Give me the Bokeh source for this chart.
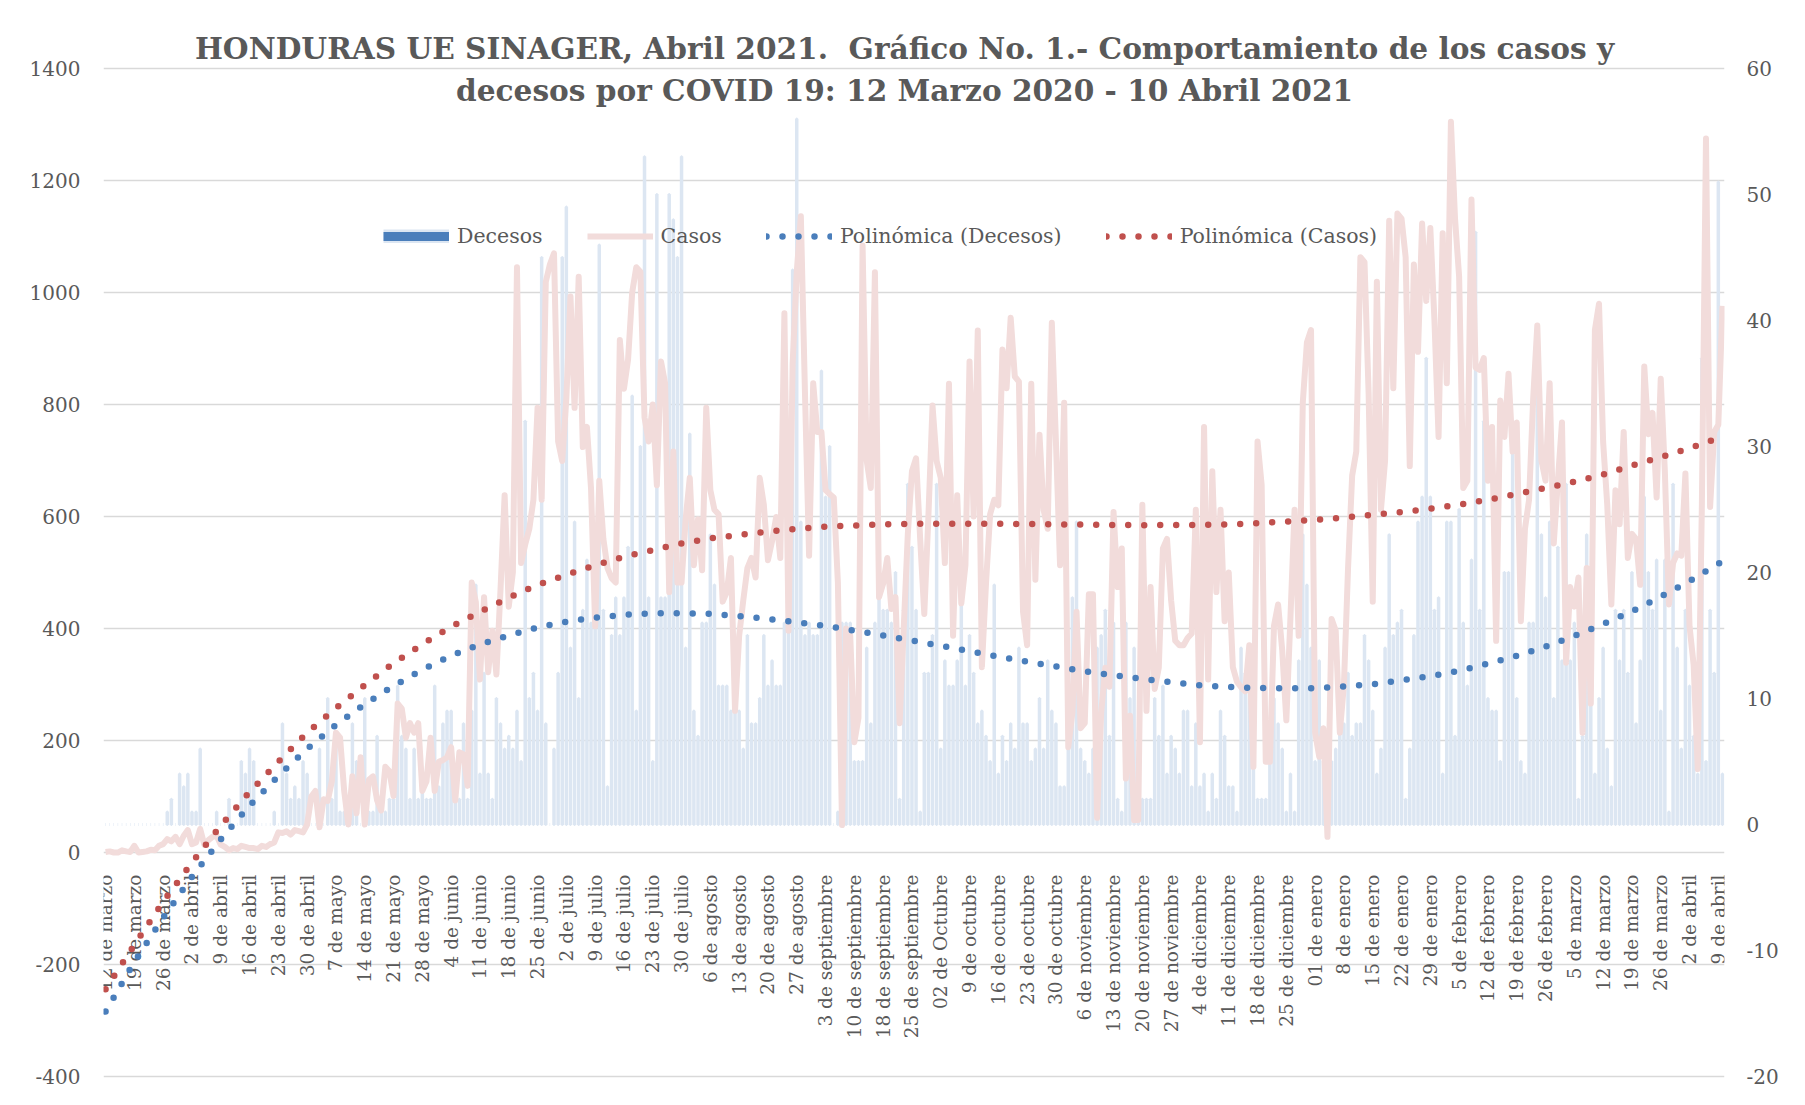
import numpy as np
from bokeh.plotting import figure
from bokeh.models import (Range1d, LinearAxis, FixedTicker, Legend, LegendItem,
                          Label, ColumnDataSource)
from bokeh.core.properties import value
from bokeh.embed import file_html
from bokeh.resources import INLINE

# ---------------- data ----------------
title_lines = [
    "HONDURAS UE SINAGER, Abril 2021.\u00a0 Gráfico No. 1.- Comportamiento de los casos y",
    "decesos por COVID 19: 12 Marzo 2020 - 10 Abril 2021",
]

tick_labels = [
    "12 de marzo", "19 de marzo", "26 de marzo", "2 de abril", "9 de abril", "16 de abril",
    "23 de abril", "30 de abril", "7 de mayo", "14 de mayo", "21 de mayo", "28 de mayo",
    "4 de junio", "11 de junio", "18 de junio", "25 de junio", "2 de julio", "9 de julio",
    "16 de julio", "23 de julio", "30 de julio", "6 de agosto", "13 de agosto", "20 de agosto",
    "27 de agosto", "3 de septiembre", "10 de septiembre", "18 de septiembre",
    "25 de septiembre", "02 de Octubre", "9 de octubre", "16 de octubre", "23 de octubre",
    "30 de octubre", "6 de noviembre", "13 de noviembre", "20 de noviembre",
    "27 de noviembre", "4 de diciembre", "11 de diciembre", "18 de diciembre",
    "25 de diciembre", "01 de enero", "8 de enero", "15 de enero", "22 de enero",
    "29 de enero", "5 de febrero", "12 de febrero", "19 de febrero", "26 de febrero",
    "5 de marzo", "12 de marzo", "19 de marzo", "26 de marzo", "2 de abril", "9 de abril",
]

casos = [
    1,
    2, 0, 0, 4, 2, 1, 12,
    0, 1, 2, 5, 4, 12, 15,
    24, 20, 28, 15, 30, 40, 15,
    18, 42, 14, 22, 28, 30, 14,
    10, 4, 8, 6, 12, 10, 8,
    8, 6, 12, 10, 15, 18, 36,
    35, 38, 32, 40, 38, 36, 50,
    100, 110, 45, 95, 92, 127, 214,
    205, 110, 50, 136, 70, 170, 50,
    130, 136, 93, 75, 153, 145, 101,
    266, 257, 205, 231, 214, 231, 110,
    127, 205, 110, 162, 165, 170, 188,
    93, 179, 175, 119, 482, 447, 309,
    456, 322, 396, 318, 470, 638, 439,
    500, 1045, 517, 550, 578, 630, 794,
    630, 1019, 1050, 1070, 734, 699, 811,
    993, 794, 1028, 724, 760, 650, 404,
    664, 560, 508, 490, 482, 915, 828,
    880, 1000, 1045, 1037, 777, 734, 800,
    656, 877, 838, 465, 716, 482, 482,
    595, 669, 513, 595, 504, 794, 647,
    612, 604, 448, 465, 526, 253, 387,
    450, 508, 526, 491, 669, 621, 522,
    556, 599, 526, 963, 396, 872, 1036,
    1136, 820, 530, 838, 751, 751, 647,
    640, 634, 482, 49, 400, 387, 197,
    240, 1084, 700, 651, 1036, 456, 480,
    526, 435, 456, 231, 400, 569, 681,
    704, 560, 426, 600, 798, 699, 669,
    517, 837, 387, 638, 445, 513, 877,
    600, 932, 331, 480, 604, 630, 620,
    898, 829, 955, 850, 841, 430, 370,
    837, 487, 746, 612, 578, 946, 733,
    513, 803, 188, 250, 430, 222, 231,
    461, 461, 62, 250, 330, 296, 608,
    474, 543, 132, 244, 58, 58, 621,
    253, 474, 292, 330, 543, 560, 450,
    378, 370, 370, 383, 391, 612, 197,
    760, 309, 681, 465, 612, 413, 500,
    331, 305, 295, 288, 370, 153, 734,
    656, 162, 162, 405, 443, 361, 236,
    420, 612, 387, 803, 911, 933, 214,
    171, 222, 28, 417, 396, 214, 300,
    508, 673, 716, 1063, 1054, 820, 448,
    1019, 612, 700, 1128, 829, 1141, 1132,
    1063, 690, 1050, 894, 1123, 985, 1115,
    950, 742, 1106, 838,
    1305, 1132, 1028, 651, 664, 1166, 866, 862, 883, 664, 760, 378, 807, 742,
    855, 716, 768, 413, 578, 630, 811, 941, 700, 664, 838, 552, 664, 768,
    339, 474, 439, 491, 214, 508, 266, 933, 980, 733, 621, 443, 647, 586,
    751, 526, 569, 560, 478, 868, 747, 785, 634, 846, 681, 443, 517, 534,
    530, 677, 404, 335, 149, 621, 1275, 617, 751, 764, 976,
]

decesos = [
    0, 0, 0, 0, 0, 0, 0,
    0, 0, 0, 0, 0, 0, 0,
    0, 1, 2, 0, 4, 3, 4,
    1, 1, 6, 0, 0, 0, 1,
    0, 0, 2, 0, 0, 5, 4,
    6, 5, 0, 0, 0, 0, 1,
    0, 8, 4, 2, 3, 2, 5,
    4, 0, 0, 6, 0, 10, 2,
    7, 1, 1, 0, 8, 5, 0,
    10, 1, 1, 7, 1, 1, 2,
    2, 11, 7, 6, 2, 6, 2,
    3, 2, 2, 11, 3, 8, 9,
    9, 2, 2, 8, 2, 9, 19,
    4, 12, 4, 2, 10, 8, 6,
    7, 6, 9, 5, 32, 10, 12,
    9, 45, 8, 0, 6, 12, 45,
    49, 14, 24, 10, 17, 21, 16,
    17, 46, 17, 3, 15, 18, 15,
    18, 22, 34, 9, 30, 53, 18,
    5, 50, 18, 18, 50, 48, 45,
    53, 14, 31, 9, 7, 16, 16,
    23, 19, 11, 11, 11, 9, 9,
    9, 6, 15, 8, 8, 10, 15,
    11, 13, 11, 11, 16, 16, 44,
    56, 24, 15, 16, 15, 15, 36,
    26, 30, 0, 1, 16, 16, 16,
    5, 5, 5, 14, 8, 16, 24,
    17, 17, 16, 20, 2, 17, 27,
    22, 17, 1, 12, 12, 15, 27,
    6, 13, 11, 11, 13, 19, 11,
    15, 12, 8, 9, 7, 5, 19,
    4, 7, 5, 8, 6, 14, 8,
    8, 5, 6, 10, 6, 13, 9,
    8, 3, 3, 7, 18, 24, 6,
    5, 4, 6, 14, 15, 17, 7,
    16, 2, 1, 16, 10, 14, 2,
    2, 2, 2, 10, 7, 11, 4,
    7, 6, 4, 9, 9, 3, 8,
    3, 4, 1, 4, 2, 9, 7,
    3, 3, 1, 14, 12, 14, 12,
    2, 2, 2, 6, 10, 8, 6,
    1, 4, 1, 13, 23, 19, 14,
    5, 13, 5, 7, 5, 6, 9,
    8, 12, 7, 8, 8, 15, 13,
    9, 4, 6, 14, 23, 15, 16,
    17, 2, 6, 15, 24, 26, 37,
    26, 17, 18, 4, 24, 24, 7,
    25, 16, 11, 21, 47, 17, 32,
    10, 9, 9, 5, 20, 20, 31,
    10, 5, 4, 16, 16, 34, 23,
    18, 24, 10, 22, 13, 27, 13,
    16, 2, 7, 23, 17, 4, 10,
    14, 6, 3, 17, 13, 17, 12,
    20, 8, 13, 26, 20, 17, 21,
    9, 21, 1, 27, 14, 6, 17,
    11, 7, 4, 37, 5, 17, 12,
    51, 4,
]

# polynomial trend lines (weekly positions + last day)
trend_x = list(range(0, 393, 7)) + [393]
trend_decesos = [
    -14.85, -10.9, -7.4, -4.15, -1.18, 1.5, 3.85, 6.0, 7.9, 9.55, 11.0, 12.28, 13.4,
    14.3, 15.0, 15.63, 16.1, 16.42, 16.64, 16.77, 16.77, 16.73, 16.54, 16.32, 16.06,
    15.76, 15.39, 15.0, 14.6, 14.18, 13.75, 13.33, 12.92, 12.54, 12.16, 11.84, 11.56,
    11.3, 11.04, 10.92, 10.83, 10.81, 10.82, 10.95, 11.13, 11.44, 11.78, 12.19, 12.77,
    13.38, 14.12, 14.97, 15.91, 16.92, 18.08, 19.32, 20.7, 20.9,
]
trend_casos = [
    -244, -165, -88, -18, 48, 108, 162, 214, 258, 299, 338, 372, 403, 430, 455, 478,
    496, 513, 528, 540, 552, 561, 567, 573, 578, 582, 584, 586, 587, 587, 587, 587,
    586.5, 586, 585.5, 585, 584.5, 585, 585, 586, 588, 591, 594, 598, 603, 608, 614,
    621, 630, 640, 651, 662, 675, 691, 706, 722, 740, 742,
]

left_ticks = [-400, -200, 0, 200, 400, 600, 800, 1000, 1200, 1400]
right_ticks = [-20, -10, 0, 10, 20, 30, 40, 50, 60]

# ---------------- derived ----------------
n = min(len(casos), len(decesos))
casos = casos[:n]
decesos = decesos[:n]
idx = np.arange(n)

GRAY = "#595959"
GRID = "#D9D9D9"
FONT = "DejaVu Serif"
BAR_FILL = "#4A7EBB"
BAR_EDGE = "#DCE6F2"

L0, L1 = left_ticks[0], left_ticks[-1]
R0, R1 = right_ticks[0], right_ticks[-1]
ylo, yhi = -421.4, 1485.7


def to_right(v):
    return R0 + (v - L0) * (R1 - R0) / (L1 - L0)


p = figure(width=1789, height=1089, output_backend="svg", toolbar_location=None,
           x_range=Range1d(-0.5, n - 0.5), y_range=Range1d(ylo, yhi),
           x_axis_location=None, min_border_left=103, min_border_right=65,
           min_border_top=20, min_border_bottom=1)
p.extra_y_ranges = {"right": Range1d(to_right(ylo), to_right(yhi))}
p.outline_line_color = None
p.background_fill_color = "white"
p.border_fill_color = "white"

lt = FixedTicker(ticks=left_ticks)
p.yaxis.ticker = lt
p.ygrid.ticker = lt
p.ygrid.grid_line_color = GRID
p.ygrid.grid_line_width = 1.5
p.xgrid.visible = False

lax = p.yaxis[0]
lax.axis_line_color = None
lax.major_tick_line_color = None
lax.minor_tick_line_color = None
lax.major_tick_out = 0
lax.major_label_standoff = 23
lax.major_label_text_font = FONT
lax.major_label_text_font_size = "20px"
lax.major_label_text_color = GRAY
lax.major_label_overrides = {t: str(t) for t in left_ticks}

rax = LinearAxis(y_range_name="right", ticker=FixedTicker(ticks=right_ticks),
                 axis_line_color=None, major_tick_line_color=None,
                 minor_tick_line_color=None, major_tick_out=0,
                 major_label_standoff=22, major_label_text_font=FONT,
                 major_label_text_font_size="20px", major_label_text_color=GRAY,
                 major_label_overrides={t: str(t) for t in right_ticks})
p.add_layout(rax, "right")

src = ColumnDataSource(dict(x=idx, casos=casos, decesos=decesos))
tsrc = ColumnDataSource(dict(x=trend_x, tc=trend_casos, td=trend_decesos))

# x category labels hanging from the zero line
lab_src = ColumnDataSource(dict(x=idx[::7][:len(tick_labels)], y=np.zeros(len(tick_labels)),
                                text=tick_labels))
p.text(x="x", y="y", text="text", source=lab_src, angle=np.pi / 2, text_align="right",
       text_baseline="middle", text_font=value(FONT), text_font_size="18.5px",
       text_color=GRAY, y_offset=22)

bars = p.vbar(x="x", top="decesos", bottom=0, width=0.12, source=src, y_range_name="right",
              fill_color=BAR_FILL, line_color=BAR_EDGE, line_width=3)
lc = p.line("x", "casos", source=src, line_color="#F2DCDB", line_width=6,
            line_join="round")
ltd = p.line("x", "td", source=tsrc, y_range_name="right", line_color="#4A7EBB",
             line_width=6.5, line_dash="0 16", line_cap="round")
ltc = p.line("x", "tc", source=tsrc, line_color="#C0504D", line_width=6.5,
             line_dash="0 16", line_cap="round")

# legend swatch for the bars (solid fill with pale edge, full swatch width)
sw_edge = p.line(x=[np.nan], y=[np.nan], line_color=BAR_EDGE, line_width=14)
sw_fill = p.line(x=[np.nan], y=[np.nan], line_color=BAR_FILL, line_width=9)

legend = Legend(items=[LegendItem(label="Decesos", renderers=[sw_edge, sw_fill]),
                       LegendItem(label="Casos", renderers=[lc]),
                       LegendItem(label="Polinómica (Decesos)", renderers=[ltd]),
                       LegendItem(label="Polinómica (Casos)", renderers=[ltc])],
                orientation="horizontal", location=(280, 840),
                background_fill_alpha=0, border_line_color=None, padding=0, margin=0,
                spacing=44, label_standoff=8, glyph_width=66, glyph_height=14,
                label_height=14, label_text_font=FONT, label_text_font_size="20.5px",
                label_text_color=GRAY)
p.add_layout(legend)

for txt, yv in zip(title_lines, [1435.7, 1360.7]):
    p.add_layout(Label(x=194.2, y=yv, text=txt, text_align="center", text_baseline="middle",
                       text_font=FONT, text_font_style="bold", text_font_size="29.6px",
                       text_color=GRAY))

open("out.html", "w").write(file_html(p, INLINE))
